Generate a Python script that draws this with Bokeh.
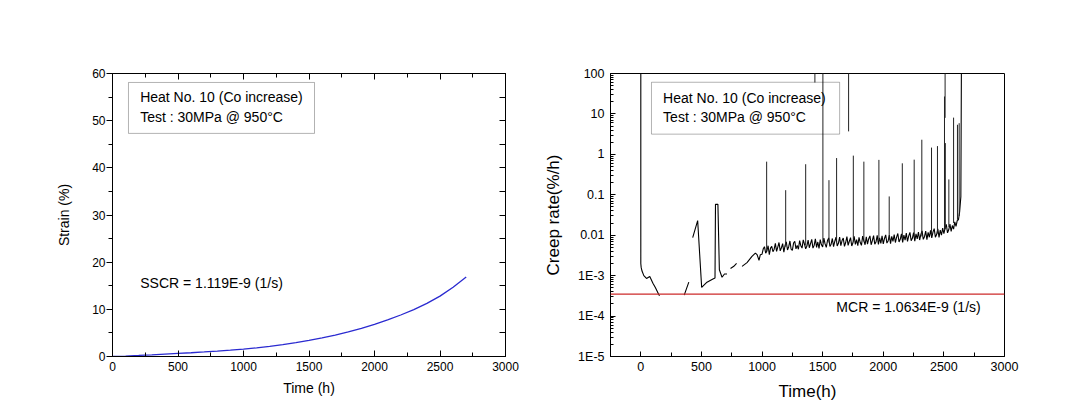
import math
from bokeh.plotting import figure
from bokeh.layouts import row
from bokeh.models import (FixedTicker, LinearAxis, Label, BoxAnnotation, Span,
                          Range1d, CustomJSTickFormatter)
from bokeh.embed import file_html
from bokeh.resources import INLINE

NAN = float("nan")
FONT = "Liberation Sans"

# ---------------- Left chart data: strain vs time ----------------
strain_time = [0, 100, 200, 300, 400, 500, 600, 700, 800, 900, 1000, 1100, 1200, 1300,
               1400, 1500, 1600, 1700, 1800, 1900, 2000, 2100, 2200, 2300, 2400, 2500,
               2600, 2700]
strain_pct = [0.0, 0.1, 0.22, 0.35, 0.5, 0.65, 0.8, 0.97, 1.15, 1.35, 1.58, 1.84, 2.14, 2.5,
              2.92, 3.4, 3.95, 4.55, 5.2, 5.95, 6.8, 7.75, 8.8, 9.95, 11.25, 12.8,
              14.7, 16.85]

strain_xticks = [0, 500, 1000, 1500, 2000, 2500, 3000]
strain_xminor = [250, 750, 1250, 1750, 2250, 2750]
strain_yticks = [0, 10, 20, 30, 40, 50, 60]
strain_yminor = [5, 15, 25, 35, 45, 55]

# ---------------- Right chart data: creep rate vs time ----------------
# early, partly interrupted part of the record (%/h)
early_t = [0, 0, 3, 10, 25, 47, 74, 100, 121, 148, 155, NAN,
           358, 396, NAN,
           428, 469, 502, 546, 595, 612, 616, 636, 648, 670, 690, 711, NAN,
           740, 767, 790, NAN,
           835, 876, 917, 945, 959, 975, 986]
early_r = [300, 2.0e-3, 1.6e-3, 1.3e-3, 1.0e-3, 8.5e-4, 9.5e-4, 6.5e-4, 5.0e-4, 3.4e-4, 3.2e-4, NAN,
           3.3e-4, 6.9e-4, NAN,
           8.7e-3, 2.3e-2, 5.1e-4, 6.9e-4, 8.3e-4, 8.8e-4, 5.8e-2, 5.8e-2, 1.4e-3, 9.1e-4, 1.1e-3, 1.1e-3, NAN,
           1.5e-3, 1.7e-3, 2.0e-3, NAN,
           1.7e-3, 2.1e-3, 3.0e-3, 3.6e-3, 3.3e-3, 2.4e-3, 3.3e-3]

# dense noisy band, one reading every 10 h from 1000 h to 2640 h (units of 1E-3 %/h)
band_t = list(range(1000, 2650, 10))
band_r_milli = [
    3.4, 4.6, 5.2, 3.6, 4.1, 5.5, 3.3, 4.8, 5.3, 3.9,
    4.5, 6.3, 4.0, 5.1, 6.6, 4.1, 4.9, 6.2, 3.8, 5.6,
    6.9, 4.3, 5.2, 7.2, 4.5, 4.2, 6.4, 7.1, 4.6, 5.6,
    4.5, 7.4, 5.5, 4.8, 7.7, 6.0, 4.6, 5.4, 7.6, 4.9,
    6.2, 7.9, 4.8, 5.6, 8.1, 5.0, 6.8, 4.7, 7.8, 5.8,
    5.1, 8.5, 6.1, 5.0, 7.4, 8.6, 5.3, 6.0, 8.3, 5.2,
    7.0, 8.9, 5.4, 6.3, 9.0, 5.5, 7.4, 8.5, 5.3, 6.6,
    9.2, 5.6, 7.1, 8.7, 5.4, 6.5, 9.4, 5.9, 7.8, 5.5,
    8.9, 6.6, 5.6, 9.5, 7.3, 5.8, 9.1, 6.0, 8.2, 9.6,
    5.8, 7.4, 9.8, 6.0, 6.8, 9.9, 5.9, 8.6, 6.3, 9.7,
    6.1, 8.3, 10.2, 6.4, 7.2, 10.1, 6.2, 9.4, 7.0, 10.4,
    6.6, 9.0, 11.0, 6.8, 7.9, 10.8, 6.6, 10.0, 7.6, 11.3,
    7.0, 9.6, 11.8, 7.3, 8.4, 11.6, 7.1, 10.8, 8.1, 12.0,
    7.6, 10.5, 12.8, 7.9, 9.2, 12.6, 7.8, 11.8, 8.9, 13.2,
    8.6, 11.9, 14.5, 8.9, 10.4, 14.3, 8.8, 13.3, 10.1, 15.0,
    11.0, 15.2, 18.6, 11.4, 13.6, 18.8, 12.5, 17.4, 14.2, 21.5,
    16.5, 23.0, 24.0, 38.0, 90.0]
# rupture: rate runs off the top of the scale
final_t = [2645]
final_r = [300]

spike_t = [1038, 1195, 1360, 1502, 1552, 1615, 1753, 1840, 1964, 2049, 2157,
           2255, 2318, 2398, 2447, 2505, 2512, 2541, 2580, 2612, 2626]
spike_base = [4.0e-3, 5.2e-3, 5.6e-3, 6.5e-3, 6.6e-3, 6.8e-3, 7.0e-3, 7.0e-3, 7.3e-3, 7.6e-3, 8.2e-3,
              8.8e-3, 9.3e-3, 1.0e-2, 1.1e-2, 1.4e-2, 1.4e-2, 1.6e-2, 2.0e-2, 2.4e-2, 3.0e-2]
spike_peak = [0.66, 0.13, 0.57, 300, 0.23, 0.81, 0.93, 0.66, 0.73, 0.091, 0.6,
              0.74, 2.3, 1.47, 1.6, 27, 1.9, 0.24, 8.1, 5.4, 5.9]

frag_t = [1436, 1714, 2510]
frag_low = [60, 3.7, 8.0]
frag_high = [300, 300, 300]

mcr_rate = 3.5e-4

creep_xticks = [0, 500, 1000, 1500, 2000, 2500, 3000]
creep_xminor = [-250, 250, 750, 1250, 1750, 2250, 2750]
creep_yticks = [1e-5, 1e-4, 1e-3, 1e-2, 1e-1, 1, 10, 100]
creep_ylabels = ["1E-5", "1E-4", "1E-3", "0.01", "0.1", "1", "10", "100"]
creep_yminor = [k * 10.0 ** e for e in range(-5, 2) for k in range(2, 10)]

heat_text = "Heat No. 10 (Co increase)"
test_text = "Test : 30MPa @ 950\u00b0C"
sscr_text = "SSCR = 1.119E-9 (1/s)"
mcr_text = "MCR = 1.0634E-9 (1/s)"

# whole creep-rate record as one line (NaN entries break it)
creep_t = early_t + band_t + final_t
creep_r = early_r + [v * 1e-3 for v in band_r_milli] + final_r


def base_style(p):
    p.grid.visible = False
    p.outline_line_color = "black"
    p.outline_line_width = 1
    p.background_fill_color = "white"
    p.border_fill_color = "white"


def tick_style(ax, tick_in, tick_out, minor_in, minor_out, size, standoff):
    ax.major_tick_in = tick_in
    ax.major_tick_out = tick_out
    ax.minor_tick_in = minor_in
    ax.minor_tick_out = minor_out
    ax.major_tick_line_color = "black"
    ax.minor_tick_line_color = "black"
    ax.axis_line_color = "black"
    ax.major_label_text_font = FONT
    ax.major_label_text_font_size = size
    ax.major_label_text_color = "black"
    ax.major_label_standoff = standoff


blank = CustomJSTickFormatter(code="return '';")

# ---------------- Left figure ----------------
p1 = figure(width=540, height=403, x_range=Range1d(0, 3000), y_range=Range1d(0, 60),
            output_backend="svg", toolbar_location=None,
            min_border_left=112, min_border_right=35, min_border_top=73, min_border_bottom=42)
base_style(p1)
xt1 = FixedTicker(ticks=strain_xticks, minor_ticks=strain_xminor)
yt1 = FixedTicker(ticks=strain_yticks, minor_ticks=strain_yminor)
p1.xaxis.ticker = xt1
p1.yaxis.ticker = yt1
tick_style(p1.xaxis[0], 6, 0, 4, 0, "12px", 5)
tick_style(p1.yaxis[0], 0, 6, 0, 4, "12px", 1)
p1.xaxis.axis_label = "Time (h)"
p1.yaxis.axis_label = "Strain (%)"
for ax in (p1.xaxis[0], p1.yaxis[0]):
    ax.axis_label_text_font = FONT
    ax.axis_label_text_font_size = "14px"
    ax.axis_label_text_font_style = "normal"
    ax.axis_label_text_color = "black"
p1.xaxis.axis_label_standoff = 6
p1.yaxis.axis_label_standoff = 17

top1 = LinearAxis(ticker=xt1, formatter=blank)
tick_style(top1, 6, 0, 4, 0, "1px", 0)
right1 = LinearAxis(ticker=yt1, formatter=blank)
tick_style(right1, 6, 0, 6, 0, "1px", 0)
p1.add_layout(top1, "above")
p1.add_layout(right1, "right")

p1.line(strain_time, strain_pct, line_color="#2a2ad0", line_width=1.3)

p1.add_layout(BoxAnnotation(left=122, right=1542, bottom=47.3, top=58.1,
                            fill_alpha=0, line_color="black", line_width=1))
p1.add_layout(Label(x=211, y=55.0, text=heat_text, text_font=FONT, text_font_size="14px",
                    text_baseline="middle", text_color="black"))
p1.add_layout(Label(x=211, y=50.8, text=test_text, text_font=FONT, text_font_size="14px",
                    text_baseline="middle", text_color="black"))
p1.add_layout(Label(x=212, y=15.6, text=sscr_text, text_font=FONT, text_font_size="14px",
                    text_baseline="middle", text_color="black"))

# ---------------- Right figure ----------------
p2 = figure(width=519, height=403, x_range=Range1d(-250, 3000), y_range=Range1d(1e-5, 100),
            y_axis_type="log", output_backend="svg", toolbar_location=None,
            min_border_left=70, min_border_right=55, min_border_top=65, min_border_bottom=47)
base_style(p2)
p2.xaxis.ticker = FixedTicker(ticks=creep_xticks, minor_ticks=creep_xminor)
p2.yaxis.ticker = FixedTicker(ticks=creep_yticks, minor_ticks=creep_yminor)
p2.yaxis.formatter = CustomJSTickFormatter(
    args=dict(vals=creep_yticks, labs=creep_ylabels),
    code="""
for (let i = 0; i < vals.length; i++) {
  if (Math.abs(Math.log10(vals[i]) - Math.log10(tick)) < 1e-6) { return labs[i]; }
}
return '';
""")
tick_style(p2.xaxis[0], 5, 0, 4, 0, "12.5px", 5)
tick_style(p2.yaxis[0], 5, 0, 3, 0, "12.5px", 6)
p2.xaxis.axis_label = "Time(h)"
p2.yaxis.axis_label = "Creep rate(%/h)"
for ax in (p2.xaxis[0], p2.yaxis[0]):
    ax.axis_label_text_font = FONT
    ax.axis_label_text_font_size = "17px"
    ax.axis_label_text_font_style = "normal"
    ax.axis_label_text_color = "black"
p2.xaxis.axis_label_standoff = 8
p2.yaxis.axis_label_standoff = 12

p2.line(creep_t, creep_r, line_color="black", line_width=1.1)
p2.segment(x0=spike_t, y0=spike_base, x1=spike_t, y1=spike_peak, line_color="#222222", line_width=1)
p2.segment(x0=frag_t, y0=frag_low, x1=frag_t, y1=frag_high, line_color="#222222", line_width=1)
p2.add_layout(Span(location=mcr_rate, dimension="width", line_color="#cc2a2a", line_width=1.2))

p2.add_layout(BoxAnnotation(left=88, right=1640, bottom=3.16, top=60.7,
                            fill_alpha=0, line_color="black", line_width=1))
p2.add_layout(Label(x=184, y=25, text=heat_text, text_font=FONT, text_font_size="14px",
                    text_baseline="middle", text_color="black"))
p2.add_layout(Label(x=184, y=8.25, text=test_text, text_font=FONT, text_font_size="14px",
                    text_baseline="middle", text_color="black"))
p2.add_layout(Label(x=1613, y=1.66e-4, text=mcr_text, text_font=FONT, text_font_size="14px",
                    text_baseline="middle", text_color="black"))

layout = row(p1, p2)
open("out.html", "w").write(file_html(layout, INLINE))
